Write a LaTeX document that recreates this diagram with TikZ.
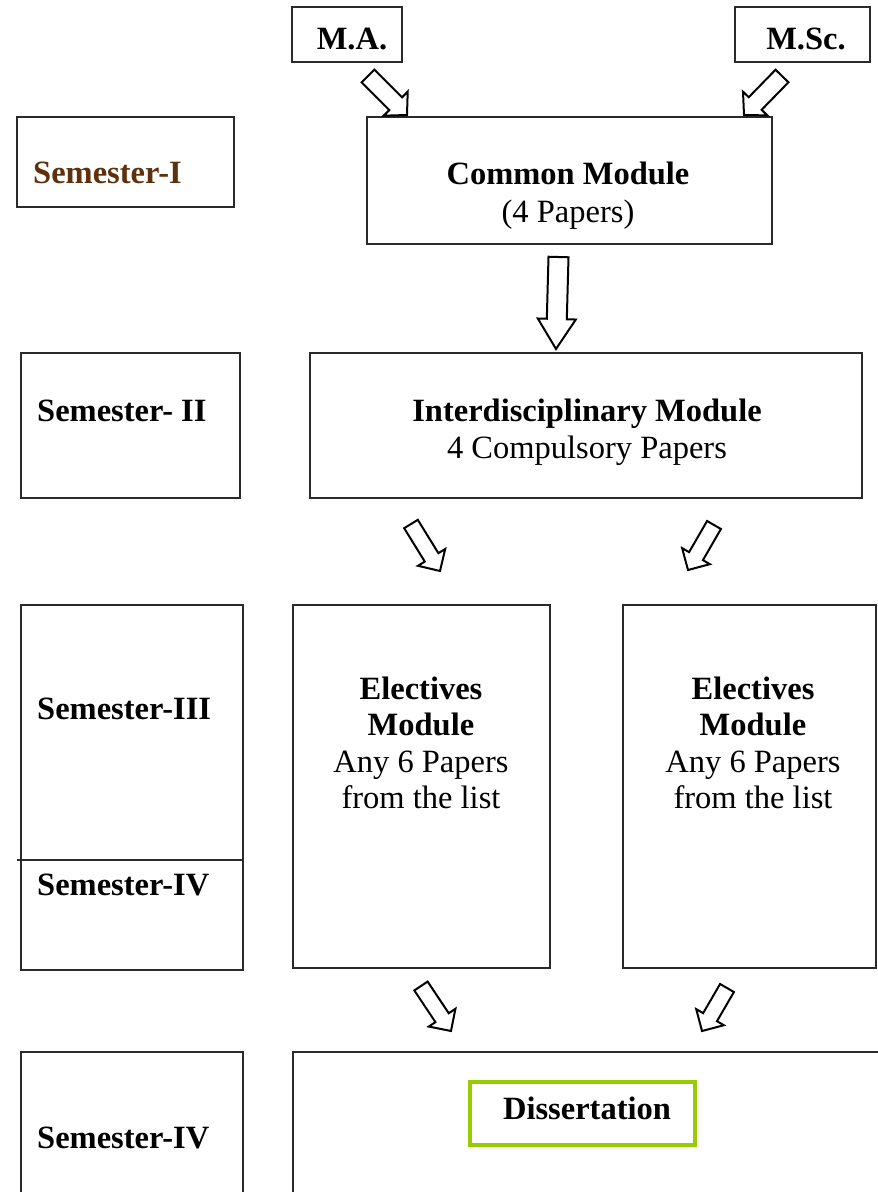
\documentclass[tikz,border=0pt]{standalone}
\usepackage{fontspec}
\setmainfont{Liberation Serif}
\usetikzlibrary{calc}
\definecolor{brownT}{HTML}{5E300C}
\definecolor{greenB}{HTML}{99CC00}
\definecolor{lineC}{HTML}{2A2A2A}
\tikzset{
  box/.style={draw=lineC, line width=2pt, rectangle, inner sep=0pt, outer sep=0pt},
  lbl/.style={font=\fontsize{32.5}{38}\selectfont\bfseries, inner sep=0pt, anchor=base},
  txt/.style={font=\fontsize{32.5}{38}\selectfont, inner sep=0pt, anchor=base},
  barrowstyle/.style={draw=black, line width=2pt, fill=white, line join=miter},
}
% block arrow from #1 to #2; #3 half shaft width, #4 half head width, #5 head length
\newcommand\blockarrow[5]{%
  \draw[barrowstyle] let \p1=($(#2)-(#1)$), \n1={atan2(\y1,\x1)}, \n2={veclen(\x1,\y1)}, \n3={veclen(\x1,\y1)-#5} in
    [shift={(#1)}, rotate=\n1]
    (0pt,-#3pt) -- (\n3,-#3pt) -- (\n3,-#4pt) -- (\n2,0pt) -- (\n3,#4pt) -- (\n3,#3pt) -- (0pt,#3pt) -- cycle;}
\begin{document}
\begin{tikzpicture}[x=1pt,y=-1pt]
\useasboundingbox (0,0) rectangle (878,1192);
% boxes
\node[box, minimum width=110, minimum height=55] (ma) at (347,34.5) {};
\node[box, minimum width=135, minimum height=55] (msc) at (802.5,34.5) {};
\node[box, minimum width=405, minimum height=127] (common) at (569.5,180.5) {};
\node[box, minimum width=217, minimum height=90] (sem1) at (125.5,162) {};
\node[box, minimum width=219, minimum height=145] (sem2) at (130.5,425.5) {};
\node[box, minimum width=552, minimum height=145] (inter) at (586,425.5) {};
\node[box, minimum width=222, minimum height=365] (sem34) at (132,787.5) {};
\node[box, minimum width=257, minimum height=363] (elec1) at (421.5,786.5) {};
\node[box, minimum width=253, minimum height=363] (elec2) at (749.5,786.5) {};
\node[box, minimum width=222, minimum height=148] (sem4) at (132,1126) {};
\node[box, minimum width=600, minimum height=148] (diss) at (593,1126) {};
\node[draw=greenB, line width=4pt, minimum width=225, minimum height=63, inner sep=0pt] (dissg) at (582.5,1113.5) {};
% divider in semester III/IV box
\coordinate (divL) at (17,860);
\coordinate (divR) at (sem34.east |- divL);
\draw[lineC, line width=2pt] (divL) -- (divR);
% texts (base lines)
\node[lbl] (tma) at (352,49) {M.A.};
\node[lbl] (tmsc) at (806,49) {M.Sc.};
\node[lbl, text=brownT, anchor=base west] (tsem1) at (33,183) {Semester-I};
\node[lbl] (tcm) at (568,184) {Common Module};
\node[txt] (tcp) at (568,222) {(4 Papers)};
\node[lbl, anchor=base west] (tsem2) at (37,421) {Semester- II};
\node[lbl] (tim) at (587,421) {Interdisciplinary Module};
\node[txt] (tic) at (587,458) {4 Compulsory Papers};
\node[lbl, anchor=base west] (tsem3) at (37,719) {Semester-III};
\node[lbl, anchor=base west] (tsem4a) at (37,895) {Semester-IV};
\node[lbl] (te1a) at (421,699) {Electives};
\node[lbl] (te1b) at (421,735) {Module};
\node[txt] (te1c) at (421,772) {Any 6 Papers};
\node[txt] (te1d) at (421,808) {from the list};
\node[lbl] (te2a) at (753,699) {Electives};
\node[lbl] (te2b) at (753,735) {Module};
\node[txt] (te2c) at (753,772) {Any 6 Papers};
\node[txt] (te2d) at (753,808) {from the list};
\node[lbl, anchor=base west] (tsem4b) at (37,1148) {Semester-IV};
\node[lbl] (tdiss) at (587,1119) {Dissertation};
% arrow end points
\coordinate (a1s) at (368,76);
\coordinate (a1e) at ($(common.north west)+(40,-2)$);
\coordinate (a2s) at (782,76);
\coordinate (a2e) at ($(common.north east)+(-28,-2)$);
\coordinate (a3s) at ($(common.south)+(-11,13)$);
\coordinate (a3e) at ($(inter.north)+(-30,-4)$);
\coordinate (a4s) at (411,524);
\coordinate (a4e) at (440,571);
\coordinate (a5s) at (714,525);
\coordinate (a5e) at (688,570);
\coordinate (a6s) at (421,986);
\coordinate (a6e) at (451,1031);
\coordinate (a7s) at (727,988);
\coordinate (a7e) at (702,1031);
\blockarrow{a1s}{a1e}{9}{17}{16}
\blockarrow{a2s}{a2e}{9}{17}{16}
\blockarrow{a3s}{a3e}{10}{19}{30}
\blockarrow{a4s}{a4e}{8}{16}{16}
\blockarrow{a5s}{a5e}{8}{16}{16}
\blockarrow{a6s}{a6e}{8}{16}{16}
\blockarrow{a7s}{a7e}{8}{16}{16}
\end{tikzpicture}
\end{document}
